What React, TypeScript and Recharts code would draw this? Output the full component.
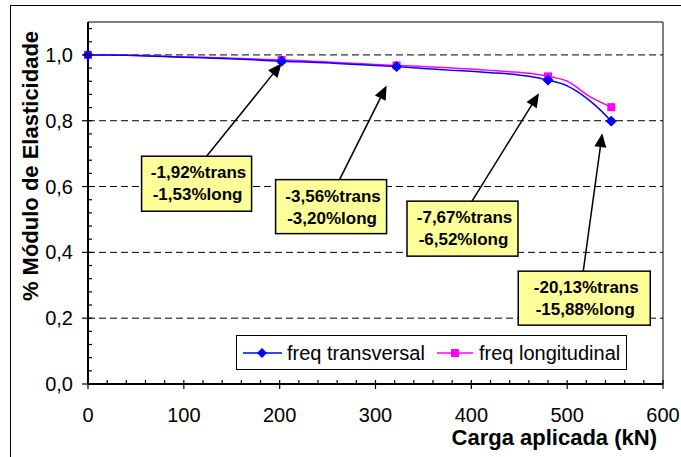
import { Legend, Line, LineChart, ReferenceDot, ReferenceLine, XAxis, YAxis } from 'recharts'

const FONT = "'Liberation Sans', Arial, sans-serif"

// carga (kN) e % do módulo
const LOAD_TRANS = [0, 20, 40, 60, 80, 100, 120, 140, 160, 180, 202, 220, 240, 260, 280, 300, 322, 340, 360, 380, 400, 420, 440, 460, 480, 500, 511, 530, 546]
const TRANS = [1.0, 1.0, 0.999, 0.997, 0.995, 0.993, 0.991, 0.989, 0.987, 0.984, 0.9808, 0.979, 0.977, 0.974, 0.971, 0.968, 0.9644, 0.961, 0.957, 0.953, 0.95, 0.946, 0.942, 0.935, 0.9233, 0.906, 0.888, 0.845, 0.7987]
const LOAD_LONG = [0, 20, 40, 60, 80, 100, 120, 140, 160, 180, 202, 220, 240, 260, 280, 300, 322, 340, 360, 380, 400, 420, 440, 460, 480, 503, 520, 546]
const LONG = [1.0, 1.0, 0.999, 0.998, 0.996, 0.994, 0.993, 0.991, 0.989, 0.987, 0.9847, 0.983, 0.98, 0.977, 0.974, 0.971, 0.968, 0.966, 0.963, 0.96, 0.957, 0.953, 0.949, 0.944, 0.9348, 0.916, 0.88, 0.8412]
const MARKER_LOADS = [0, 202, 322, 480, 546]

const X_MAJOR = [0, 100, 200, 300, 400, 500, 600]
const Y_MAJOR = [0, 0.2, 0.4, 0.6, 0.8, 1.0]
const Y_GRID = [0.2, 0.4, 0.6, 0.8, 1.0]

const NOTE_LOADS = [202, 322, 480, 546]
const NOTE_TRANS = ['-1,92%trans', '-3,56%trans', '-7,67%trans', '-20,13%trans']
const NOTE_LONG = ['-1,53%long', '-3,20%long', '-6,52%long', '-15,88%long']

// caixa e seta, em px relativos ao marcador
const NOTE_LAYOUT = [
  { left: -140, top: 95, w: 110, h: 55, ax: -75, tx: 0, ty: 2 },
  { left: -121, top: 113, w: 111, h: 54, ax: -57, tx: -10, ty: 19 },
  { left: -141, top: 121, w: 111, h: 55, ax: -76, tx: -9, ty: 13 },
  { left: -93, top: 150, w: 132, h: 54, ax: -28, tx: -9, ty: 12 },
]

const xMinor: number[] = []
for (let v = 0; v <= 600; v += 20) xMinor.push(v)
const yMinor: number[] = []
for (let i = 0; i <= 27; i++) yMinor.push(Number((i * 0.04).toFixed(2)))

const transData = LOAD_TRANS.map((x, i) => ({ x, v: TRANS[i] }))
const longData = LOAD_LONG.map((x, i) => ({ x, v: LONG[i] }))

function XTick({ x, y, payload }: any) {
  const v = payload.value
  if (X_MAJOR.includes(v)) {
    return (
      <g>
        <line x1={x} x2={x} y1={y - 4} y2={y + 5} stroke="#000" strokeWidth={1.2} />
        <text x={x} y={y + 38} textAnchor="middle" fontSize={20} fontFamily={FONT} fill="#000">
          {v}
        </text>
      </g>
    )
  }
  return <line x1={x} x2={x} y1={y - 4} y2={y} stroke="#000" strokeWidth={1.2} />
}

function YTick({ x, y, payload }: any) {
  const v = payload.value
  const major = Y_MAJOR.some((m) => Math.abs(m - v) < 1e-6)
  if (major) {
    return (
      <g>
        <line x1={x - 6} x2={x + 4} y1={y} y2={y} stroke="#000" strokeWidth={1.2} />
        <text x={x - 15} y={y + 7} textAnchor="end" fontSize={20} fontFamily={FONT} fill="#000">
          {v.toFixed(1).replace('.', ',')}
        </text>
      </g>
    )
  }
  return <line x1={x} x2={x + 4} y1={y} y2={y} stroke="#000" strokeWidth={1.2} />
}

function TransDot(props: any) {
  const { cx, cy, payload, index } = props
  if (!MARKER_LOADS.includes(payload.x)) return <g key={`t${index}`} />
  return (
    <path
      key={`t${index}`}
      d={`M${cx},${cy - 5}L${cx + 5},${cy}L${cx},${cy + 5}L${cx - 5},${cy}Z`}
      fill="#0000ff"
      stroke="#0000ff"
    />
  )
}

function LongDot(props: any) {
  const { cx, cy, payload, index } = props
  if (!MARKER_LOADS.includes(payload.x)) return <g key={`l${index}`} />
  return <rect key={`l${index}`} x={cx - 4} y={cy - 4} width={8} height={8} fill="#ff00ff" />
}

function makeNote(i: number) {
  return function Note({ cx, cy }: any) {
    const L = NOTE_LAYOUT[i]
    const sx = cx + L.ax
    const sy = cy + L.top
    const tx = cx + L.tx
    const ty = cy + L.ty
    const dx = tx - sx
    const dy = ty - sy
    const len = Math.hypot(dx, dy)
    const ux = dx / len
    const uy = dy / len
    const bx = tx - ux * 14
    const by = ty - uy * 14
    const bx0 = cx + L.left
    return (
      <g>
        <line x1={sx} y1={sy} x2={bx} y2={by} stroke="#000" strokeWidth={1.5} />
        <path
          d={`M${tx},${ty}L${bx - uy * 6},${by + ux * 6}L${bx + uy * 6},${by - ux * 6}Z`}
          fill="#000"
        />
        <rect x={bx0} y={sy} width={L.w} height={L.h} fill="#ffff99" stroke="#000" strokeWidth={1.5} />
        <text
          x={bx0 + L.w / 2 + 2}
          y={sy + 22}
          textAnchor="middle"
          fontSize={17}
          fontWeight="bold"
          fontFamily={FONT}
          fill="#000"
        >
          {NOTE_TRANS[i]}
        </text>
        <text
          x={bx0 + L.w / 2 + 1}
          y={sy + 44}
          textAnchor="middle"
          fontSize={17}
          fontWeight="bold"
          fontFamily={FONT}
          fill="#000"
        >
          {NOTE_LONG[i]}
        </text>
      </g>
    )
  }
}

function LegendBox() {
  return (
    <div
      style={{
        width: 391,
        height: 35,
        boxSizing: 'border-box',
        border: '1px solid #000',
        background: '#fff',
        position: 'relative',
        fontFamily: FONT,
        fontSize: 20,
      }}
    >
      <svg width={391} height={35} style={{ position: 'absolute', left: -1, top: -1 }}>
        <line x1={7} x2={46} y1={18} y2={18} stroke="#0000ff" strokeWidth={1.5} />
        <path d="M26,13L31,18L26,23L21,18Z" fill="#0000ff" />
        <text x={51} y={25} fontSize={20} fontFamily={FONT}>
          freq transversal
        </text>
        <line x1={201} x2={237} y1={18} y2={18} stroke="#ff00ff" strokeWidth={1.5} />
        <rect x={215} y={14} width={8} height={8} fill="#ff00ff" />
        <text x={243} y={25} fontSize={20} fontFamily={FONT}>
          freq longitudinal
        </text>
      </svg>
    </div>
  )
}

export default function App() {
  return (
    <div
      style={{
        position: 'absolute',
        left: 0,
        top: 0,
        width: 681,
        height: 457,
        background: '#fff',
        overflow: 'hidden',
      }}
    >
      <div
        style={{
          position: 'absolute',
          left: 10,
          top: 5,
          width: 700,
          height: 500,
          border: '1px solid #000',
        }}
      />
      <div style={{ position: 'absolute', left: 0, top: 0 }}>
        <LineChart width={681} height={457} margin={{ top: 22, right: 18, left: 0, bottom: 0 }}>
          {Y_GRID.map((g) => (
            <ReferenceLine key={g} y={g} stroke="#000" strokeDasharray="7 4" strokeWidth={1} />
          ))}
          <ReferenceLine y={1.1} stroke="#000" strokeWidth={1} />
          <ReferenceLine x={600} stroke="#000" strokeWidth={1} />
          <XAxis
            dataKey="x"
            type="number"
            domain={[0, 600]}
            ticks={xMinor}
            interval={0}
            height={73}
            tickSize={0}
            tickMargin={0}
            tick={<XTick />}
            axisLine={{ stroke: '#000', strokeWidth: 2 }}
            allowDuplicatedCategory={false}
            label={() => (
              <text
                x={657}
                y={445}
                textAnchor="end"
                fontSize={22}
                fontWeight="bold"
                fontFamily={FONT}
                fill="#000"
              >
                Carga aplicada (kN)
              </text>
            )}
          />
          <YAxis
            type="number"
            domain={[0, 1.1]}
            ticks={yMinor}
            interval={0}
            width={88}
            tickSize={0}
            tickMargin={0}
            tick={<YTick />}
            axisLine={{ stroke: '#000', strokeWidth: 2 }}
            label={() => (
              <text
                x={38}
                y={166}
                transform="rotate(-90 38 166)"
                textAnchor="middle"
                fontSize={22}
                fontWeight="bold"
                fontFamily={FONT}
                fill="#000"
              >
                % Módulo de Elasticidade
              </text>
            )}
          />
          <Line
            data={longData}
            dataKey="v"
            type="monotone"
            stroke="#ff00ff"
            strokeWidth={1.5}
            dot={LongDot}
            activeDot={false}
            isAnimationActive={false}
            name="freq longitudinal"
          />
          <Line
            data={transData}
            dataKey="v"
            type="monotone"
            stroke="#0000ff"
            strokeWidth={1.5}
            dot={TransDot}
            activeDot={false}
            isAnimationActive={false}
            name="freq transversal"
          />
          {NOTE_LOADS.map((load, i) => (
            <ReferenceDot
              key={load}
              x={load}
              y={TRANS[LOAD_TRANS.indexOf(load)]}
              r={0}
              shape={makeNote(i)}
            />
          ))}
          <Legend
            layout="horizontal"
            verticalAlign="middle"
            align="center"
            content={() => <LegendBox />}
            wrapperStyle={{ left: 236, top: 335, width: 391, height: 35 }}
          />
        </LineChart>
      </div>
    </div>
  )
}
